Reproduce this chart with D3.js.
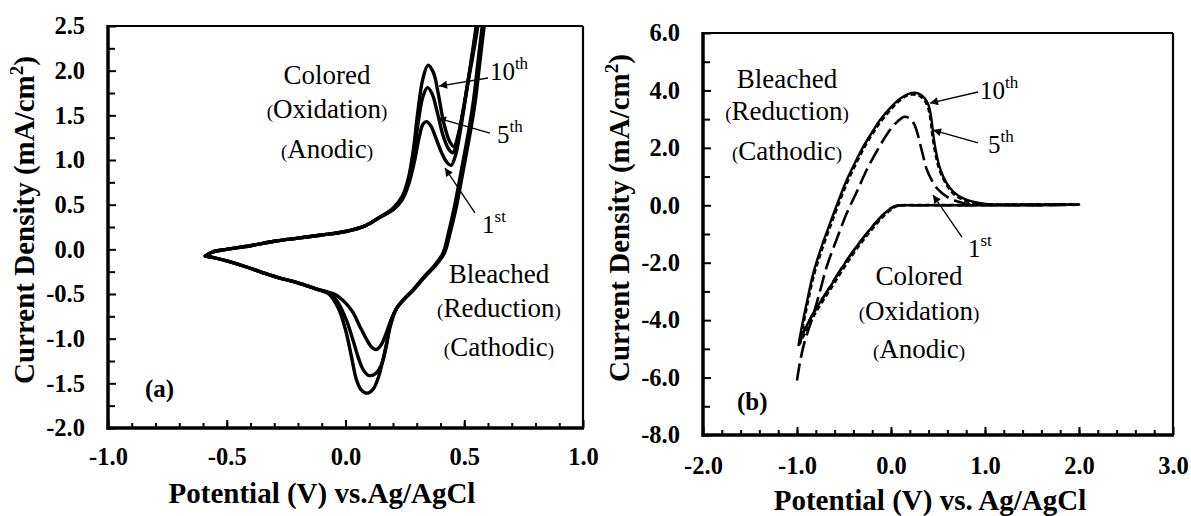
<!DOCTYPE html>
<html>
<head>
<meta charset="utf-8">
<script src="https://cdn.jsdelivr.net/npm/d3@7"></script>
<style>
  body { margin: 0; background: #fff; }
  svg { display: block; }
  text { font-family: "Liberation Serif", "Times New Roman", serif; fill: #000; }
</style>
</head>
<body>
<svg id="chart" width="1191" height="516"></svg>
<script>
// ---------- Panel (a): cyclic voltammograms, potential (V) vs current density (mA/cm2) ----------
const aPotentialTicks  = [-1.0, -0.5, 0.0, 0.5, 1.0];
const aPotentialLabels = ["-1.0", "-0.5", "0.0", "0.5", "1.0"];
const aCurrentTicks    = [-2.0, -1.5, -1.0, -0.5, 0.0, 0.5, 1.0, 1.5, 2.0, 2.5];
const aCurrentLabels   = ["-2.0", "-1.5", "-1.0", "-0.5", "0.0", "0.5", "1.0", "1.5", "2.0", "2.5"];

const aCycle10 = [
  [-0.59,-0.075],[-0.56,-0.03],[-0.5,0.0],[-0.4,0.04],[-0.3,0.09],[-0.2,0.125],[-0.1,0.16],[0.0,0.2],[0.08,0.26],[0.145,0.36],
  [0.2,0.46],[0.24,0.6],[0.265,0.8],[0.285,1.1],[0.305,1.55],[0.325,1.9],[0.347,2.06],[0.37,1.98],[0.39,1.75],[0.415,1.4],
  [0.44,1.2],[0.457,1.15],[0.476,1.3],[0.497,1.58],[0.518,1.9],[0.54,2.22],[0.563,2.6],[0.58,2.95],
  [0.628,3.3],[0.608,2.95],[0.584,2.5],[0.565,2.08],[0.547,1.67],[0.528,1.35],[0.511,1.1],[0.497,0.9],[0.483,0.7],[0.463,0.43],
  [0.442,0.2],[0.416,-0.045],[0.375,-0.195],[0.333,-0.31],[0.288,-0.45],[0.247,-0.56],[0.215,-0.66],
  [0.19,-0.85],[0.165,-1.15],[0.14,-1.42],[0.115,-1.57],[0.09,-1.61],[0.065,-1.57],[0.045,-1.45],[0.025,-1.2],[0.0,-0.9],
  [-0.03,-0.66],[-0.07,-0.5],[-0.11,-0.455],
  [-0.2,-0.375],[-0.28,-0.32],[-0.35,-0.26],[-0.42,-0.195],[-0.5,-0.13],[-0.56,-0.09],[-0.59,-0.075]
];
const aCycle5 = [
  [-0.59,-0.075],[-0.56,-0.03],[-0.5,0.0],[-0.4,0.04],[-0.3,0.09],[-0.2,0.125],[-0.1,0.16],[0.0,0.2],[0.08,0.26],[0.145,0.36],
  [0.2,0.45],[0.24,0.58],[0.265,0.76],[0.285,1.02],[0.305,1.4],[0.325,1.7],[0.345,1.81],[0.365,1.74],[0.385,1.55],[0.41,1.28],
  [0.435,1.12],[0.452,1.08],[0.471,1.22],[0.492,1.5],[0.513,1.84],[0.535,2.2],[0.557,2.57],[0.574,2.92],
  [0.624,3.3],[0.604,2.95],[0.58,2.5],[0.561,2.08],[0.543,1.67],[0.524,1.35],[0.507,1.1],[0.493,0.9],[0.479,0.7],[0.459,0.43],
  [0.438,0.2],[0.413,-0.045],[0.372,-0.195],[0.331,-0.31],[0.286,-0.45],[0.246,-0.56],[0.215,-0.66],
  [0.19,-0.82],[0.172,-1.08],[0.15,-1.3],[0.122,-1.4],[0.096,-1.41],[0.075,-1.35],[0.055,-1.22],[0.033,-1.03],[0.005,-0.8],
  [-0.035,-0.58],[-0.075,-0.48],[-0.11,-0.455],
  [-0.2,-0.375],[-0.28,-0.32],[-0.35,-0.26],[-0.42,-0.195],[-0.5,-0.13],[-0.56,-0.09],[-0.59,-0.075]
];
const aCycle1 = [
  [-0.59,-0.075],[-0.56,-0.03],[-0.5,0.0],[-0.4,0.04],[-0.3,0.09],[-0.2,0.125],[-0.1,0.16],[0.0,0.2],[0.08,0.26],[0.145,0.36],
  [0.2,0.44],[0.24,0.56],[0.265,0.72],[0.29,0.98],[0.31,1.25],[0.326,1.4],[0.342,1.43],[0.36,1.38],[0.38,1.25],[0.405,1.08],
  [0.428,0.97],[0.445,0.94],[0.463,1.05],[0.483,1.32],[0.504,1.67],[0.527,2.07],[0.55,2.5],[0.567,2.87],
  [0.62,3.3],[0.6,2.95],[0.576,2.5],[0.557,2.08],[0.539,1.67],[0.52,1.35],[0.503,1.1],[0.489,0.9],[0.475,0.7],[0.455,0.43],
  [0.435,0.2],[0.41,-0.045],[0.37,-0.195],[0.33,-0.31],[0.285,-0.45],[0.245,-0.56],[0.215,-0.66],
  [0.19,-0.8],[0.17,-0.95],[0.15,-1.07],[0.135,-1.115],[0.124,-1.12],[0.108,-1.09],[0.085,-0.99],[0.06,-0.86],[0.03,-0.7],
  [0.0,-0.6],[-0.04,-0.51],[-0.08,-0.475],[-0.11,-0.455],
  [-0.2,-0.375],[-0.28,-0.32],[-0.35,-0.26],[-0.42,-0.195],[-0.5,-0.13],[-0.56,-0.09],[-0.59,-0.075]
];

// ---------- Panel (b): sweeps, potential (V) vs current density (mA/cm2) ----------
const bPotentialTicks  = [-2.0, -1.0, 0.0, 1.0, 2.0, 3.0];
const bPotentialLabels = ["-2.0", "-1.0", "0.0", "1.0", "2.0", "3.0"];
const bCurrentTicks    = [-8.0, -6.0, -4.0, -2.0, 0.0, 2.0, 4.0, 6.0];
const bCurrentLabels   = ["-8.0", "-6.0", "-4.0", "-2.0", "0.0", "2.0", "4.0", "6.0"];

const bCycle10 = [
  [-0.985,-4.9],[-0.97,-4.6],[-0.9,-3.45],[-0.827,-2.37],[-0.74,-1.45],[-0.649,-0.63],[-0.56,0.15],[-0.471,0.88],[-0.38,1.5],
  [-0.295,2.04],[-0.2,2.55],[-0.117,2.97],[0.0,3.42],[0.1,3.72],[0.18,3.87],[0.24,3.92],[0.3,3.88],[0.36,3.72],[0.4,3.48],
  [0.43,3.0],[0.45,2.45],[0.48,1.85],[0.52,1.3],[0.59,0.78],[0.67,0.45],[0.77,0.24],[0.95,0.07],[1.1,0.03],[1.5,0.03],[2.0,0.03],
  [1.5,0.0],[1.0,0.0],[0.5,0.0],[0.2,0.0],[0.08,-0.01],[0.02,-0.06],[-0.04,-0.2],[-0.12,-0.45],[-0.3,-1.15],[-0.47,-1.92],
  [-0.65,-2.85],[-0.83,-3.78],[-0.93,-4.42],[-0.985,-4.9]
];
const bCycle5 = [
  [-0.975,-4.85],[-0.96,-4.6],[-0.89,-3.45],[-0.815,-2.37],[-0.725,-1.45],[-0.635,-0.63],[-0.545,0.15],[-0.455,0.88],[-0.365,1.5],
  [-0.28,2.04],[-0.185,2.55],[-0.1,2.95],[0.01,3.38],[0.1,3.67],[0.17,3.82],[0.23,3.86],[0.29,3.83],[0.35,3.68],[0.39,3.45],
  [0.42,3.0],[0.44,2.45],[0.47,1.85],[0.51,1.3],[0.58,0.78],[0.66,0.42],[0.76,0.2],[0.92,0.06],[1.1,0.03],[1.5,0.03],[2.0,0.03],
  [1.5,0.01],[1.0,0.01],[0.5,0.01],[0.2,0.01],[0.1,0.0],[0.04,-0.06],[-0.02,-0.2],[-0.1,-0.45],[-0.28,-1.15],[-0.45,-1.92],
  [-0.63,-2.85],[-0.81,-3.78],[-0.91,-4.42],[-0.975,-4.85]
];
const bCycle1 = [
  [-1.0,-6.1],[-0.97,-5.5],[-0.933,-4.93],[-0.89,-4.45],[-0.844,-4.0],[-0.76,-3.05],[-0.684,-2.14],[-0.58,-1.2],[-0.471,-0.28],
  [-0.36,0.5],[-0.259,1.23],[-0.14,1.95],[-0.011,2.62],[0.07,2.92],[0.14,3.08],[0.2,3.02],[0.25,2.8],[0.29,2.4],[0.32,2.0],
  [0.344,1.69],[0.38,1.25],[0.433,0.88],[0.5,0.55],[0.593,0.3],[0.7,0.14],[0.805,0.05],[1.0,0.02],[1.5,0.02],[2.0,0.02],
  [1.5,0.0],[1.0,0.0],[0.5,0.0],[0.2,0.0],[0.07,-0.01],[0.01,-0.08],[-0.055,-0.24],[-0.135,-0.5],[-0.315,-1.22],[-0.485,-1.99],
  [-0.665,-2.92],[-0.845,-3.87],[-0.93,-4.4],[-0.965,-4.75]
];

// ---------- layout ----------
const svg = d3.select("#chart");
const defs = svg.append("defs");
defs.append("marker")
  .attr("id", "arrowHead")
  .attr("viewBox", "0 0 10 10")
  .attr("refX", 10).attr("refY", 5)
  .attr("markerUnits", "userSpaceOnUse")
  .attr("markerWidth", 11).attr("markerHeight", 8)
  .attr("orient", "auto")
  .append("path").attr("d", "M0,0 L10,5 L0,10 Z").attr("fill", "#000");

const xa = d3.scaleLinear().domain([-1.0, 1.0]).range([108, 583]);
const ya = d3.scaleLinear().domain([-2.0, 2.5]).range([428, 26]);
const xb = d3.scaleLinear().domain([-2.0, 3.0]).range([703, 1173]);
const yb = d3.scaleLinear().domain([-8.0, 6.0]).range([435, 33]);

const tickFont = { "font-family": '"Liberation Serif", "Times New Roman", serif', "font-size": 24.5, "font-weight": "bold" };

function drawFrame(x, y, o) {
  const g = svg.append("g");
  const [x0, x1] = x.range(), [y0, y1] = y.range();

  // minor ticks (no labels)
  g.append("g").attr("transform", `translate(0,${y0})`)
    .call(d3.axisBottom(x).tickValues(o.xMinor).tickSize(-5).tickFormat(""))
    .call(s => s.select(".domain").remove());
  g.append("g").attr("transform", `translate(${x0},0)`)
    .call(d3.axisLeft(y).tickValues(o.yMinor).tickSize(-7).tickFormat(""))
    .call(s => s.select(".domain").remove());

  // major ticks with labels
  const xAx = g.append("g").attr("transform", `translate(0,${y0})`)
    .call(d3.axisBottom(x).tickValues(o.xTicks).tickFormat((d, i) => o.xLabels[i]).tickSize(-8).tickPadding(o.xPad))
    .call(s => s.select(".domain").remove());
  const yAx = g.append("g").attr("transform", `translate(${x0},0)`)
    .call(d3.axisLeft(y).tickValues(o.yTicks).tickFormat((d, i) => o.yLabels[i]).tickSize(-8).tickPadding(23))
    .call(s => s.select(".domain").remove());
  [xAx, yAx].forEach(a => {
    Object.entries(tickFont).forEach(([k, v]) => a.attr(k, v));
  });

  g.selectAll(".tick line").attr("stroke", "#000").attr("stroke-width", 2);

  // plot frame: heavier left/bottom axis lines
  g.append("line").attr("x1", x0).attr("x2", x1).attr("y1", y1).attr("y2", y1).attr("stroke", "#000").attr("stroke-width", 2.2);
  g.append("line").attr("x1", x1).attr("x2", x1).attr("y1", y1).attr("y2", y0).attr("stroke", "#000").attr("stroke-width", 2.2);
  g.append("line").attr("x1", x0).attr("x2", x0).attr("y1", y1 - 1).attr("y2", y0 + 1.5).attr("stroke", "#000").attr("stroke-width", 3.5);
  g.append("line").attr("x1", x0 - 1.5).attr("x2", x1 + 1).attr("y1", y0).attr("y2", y0).attr("stroke", "#000").attr("stroke-width", 3.5);
}

drawFrame(xa, ya, {
  xTicks: aPotentialTicks, xLabels: aPotentialLabels, xMinor: d3.range(-9, 10).map(k => k / 10), xPad: 20,
  yTicks: aCurrentTicks, yLabels: aCurrentLabels, yMinor: d3.range(-7, 10, 2).map(k => k / 4)
});
drawFrame(xb, yb, {
  xTicks: bPotentialTicks, xLabels: bPotentialLabels, xMinor: d3.range(-9, 15).map(k => k / 5), xPad: 22,
  yTicks: bCurrentTicks, yLabels: bCurrentLabels, yMinor: d3.range(-7, 6, 2)
});

// clip regions for the traces
function addClip(id, x, y) {
  defs.append("clipPath").attr("id", id).append("rect")
    .attr("x", x.range()[0]).attr("y", y.range()[1])
    .attr("width", x.range()[1] - x.range()[0]).attr("height", y.range()[0] - y.range()[1]);
}
addClip("clipA", xa, ya);
addClip("clipB", xb, yb);

const lineA = d3.line().x(d => xa(d[0])).y(d => ya(d[1])).curve(d3.curveCatmullRom.alpha(0.5));
const lineB = d3.line().x(d => xb(d[0])).y(d => yb(d[1])).curve(d3.curveCatmullRom.alpha(0.5));

const gA = svg.append("g").attr("clip-path", "url(#clipA)");
[aCycle1, aCycle5, aCycle10].forEach(c => {
  gA.append("path").attr("d", lineA(c)).attr("fill", "none").attr("stroke", "#000")
    .attr("stroke-width", 3.4).attr("stroke-linejoin", "round").attr("stroke-linecap", "round");
});

const gB = svg.append("g").attr("clip-path", "url(#clipB)");
[
  { data: bCycle10, dash: null, w: 2.4 },
  { data: bCycle5, dash: "5,3", w: 2.6 },
  { data: bCycle1, dash: "17,6", w: 2.6 }
].forEach(s => {
  gB.append("path").attr("d", lineB(s.data)).attr("fill", "none").attr("stroke", "#000")
    .attr("stroke-width", s.w).attr("stroke-dasharray", s.dash);
});

// ---------- axis titles ----------
function yTitle(cx, cy) {
  const t = svg.append("text").attr("transform", `translate(${cx},${cy}) rotate(-90)`)
    .attr("text-anchor", "middle").attr("font-size", 29).attr("font-weight", "bold");
  t.append("tspan").text("Current Density (mA/cm");
  t.append("tspan").attr("font-size", 19).attr("dy", -11).text("2");
  t.append("tspan").attr("dy", 11).text(")");
}
yTitle(34, 220);
yTitle(629, 218);

svg.append("text").attr("x", 322).attr("y", 503).attr("text-anchor", "middle")
  .attr("font-size", 29).attr("font-weight", "bold").text("Potential (V) vs.Ag/AgCl");
svg.append("text").attr("x", 930).attr("y", 510).attr("text-anchor", "middle")
  .attr("font-size", 29).attr("font-weight", "bold").text("Potential (V) vs. Ag/AgCl");

// ---------- annotations ----------
function stateLabel(x, y, v, i, word, paren) {
  const t = svg.append("text").attr("x", x(v)).attr("y", y(i)).attr("text-anchor", "middle").attr("font-size", 27);
  if (paren) {
    t.append("tspan").attr("font-size", 19).text("(");
    t.append("tspan").text(word);
    t.append("tspan").attr("font-size", 19).text(")");
  } else {
    t.text(word);
  }
}
function ordinal(x, y, v, i, num, suf) {
  const t = svg.append("text").attr("x", x(v)).attr("y", y(i)).attr("font-size", 25);
  t.append("tspan").text(num);
  t.append("tspan").attr("font-size", 17).attr("dy", -11).text(suf);
}
function arrow(x, y, from, to) {
  svg.append("line")
    .attr("x1", x(from[0])).attr("y1", y(from[1]))
    .attr("x2", x(to[0])).attr("y2", y(to[1]))
    .attr("stroke", "#000").attr("stroke-width", 1.3).attr("marker-end", "url(#arrowHead)");
}
function panelTag(x, y, v, i, letter) {
  svg.append("text").attr("x", x(v)).attr("y", y(i)).attr("font-size", 25).attr("font-weight", "bold")
    .text(`(${letter})`);
}

// panel (a)
stateLabel(xa, ya, -0.078, 1.85, "Colored", false);
stateLabel(xa, ya, -0.078, 1.47, "Oxidation", true);
stateLabel(xa, ya, -0.078, 1.02, "Anodic", true);
stateLabel(xa, ya, 0.646, -0.377, "Bleached", false);
stateLabel(xa, ya, 0.646, -0.758, "Reduction", true);
stateLabel(xa, ya, 0.646, -1.194, "Cathodic", true);
ordinal(xa, ya, 0.608, 1.895, "10", "th");
ordinal(xa, ya, 0.638, 1.19, "5", "th");
ordinal(xa, ya, 0.575, 0.183, "1", "st");
arrow(xa, ya, [0.6, 1.918], [0.394, 1.828]);
arrow(xa, ya, [0.608, 1.302], [0.389, 1.47]);
arrow(xa, ya, [0.545, 0.407], [0.419, 0.91]);
panelTag(xa, ya, -0.844, -1.653, "a");

// panel (b)
stateLabel(xb, yb, -1.106, 4.08, "Bleached", false);
stateLabel(xb, yb, -1.106, 2.97, "Reduction", true);
stateLabel(xb, yb, -1.106, 1.58, "Cathodic", true);
stateLabel(xb, yb, 0.298, -2.78, "Colored", false);
stateLabel(xb, yb, 0.298, -4.0, "Oxidation", true);
stateLabel(xb, yb, 0.298, -5.32, "Anodic", true);
ordinal(xb, yb, 0.947, 3.70, "10", "th");
ordinal(xb, yb, 1.032, 1.82, "5", "th");
ordinal(xb, yb, 0.819, -1.80, "1", "st");
arrow(xb, yb, [0.926, 3.945], [0.415, 3.56]);
arrow(xb, yb, [0.926, 2.17], [0.447, 2.62]);
arrow(xb, yb, [0.755, -1.105], [0.447, 0.357]);
panelTag(xb, yb, -1.638, -7.13, "b");
</script>
</body>
</html>
